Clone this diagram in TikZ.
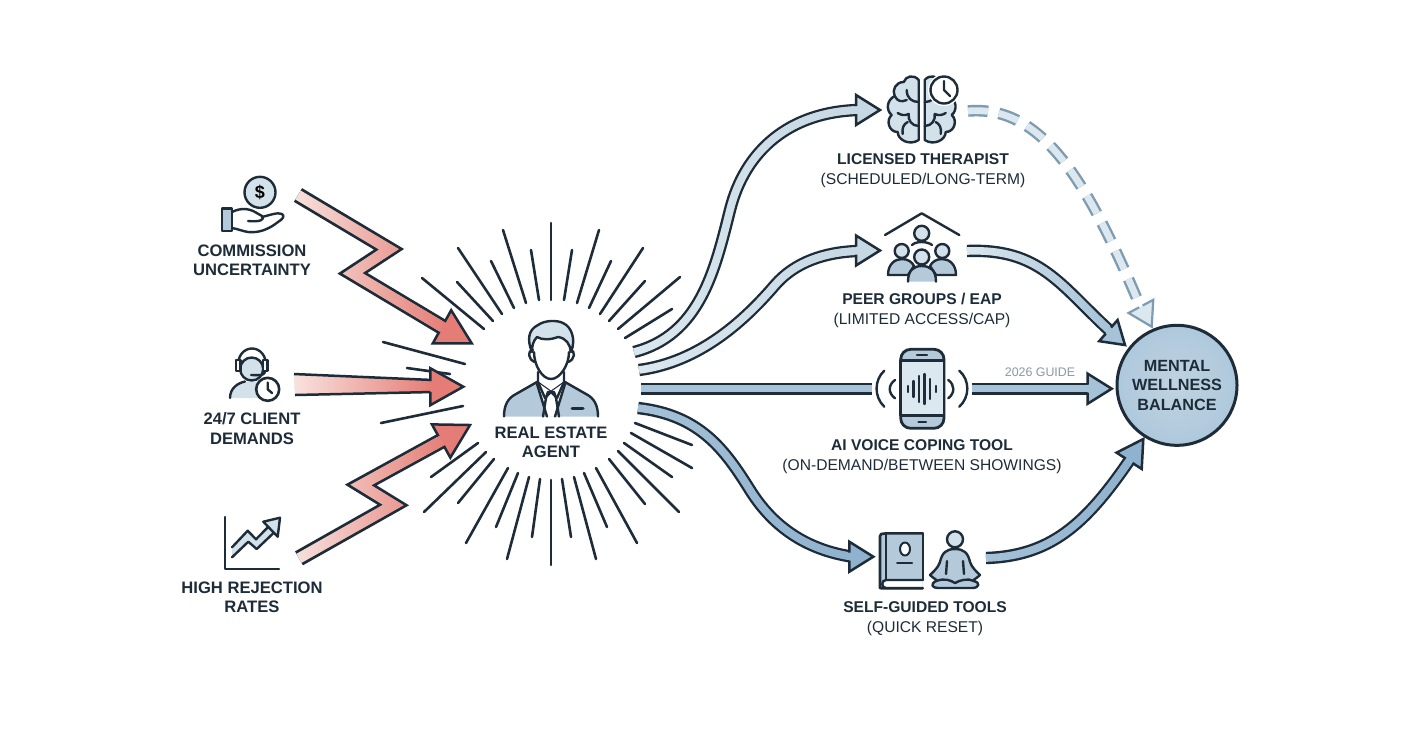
\documentclass[tikz,border=0pt]{standalone}
\usepackage{fontspec}
\setmainfont{Liberation Sans}
\usetikzlibrary{arrows.meta,positioning,calc,fadings,shapes.geometric}
\definecolor{ink}{HTML}{1D2C38}
\definecolor{stressA}{HTML}{F8E2DD}
\definecolor{stressB}{HTML}{E57D76}
\definecolor{iconA}{HTML}{D3E1EA}
\definecolor{iconB}{HTML}{B4CADA}
\definecolor{flowA}{HTML}{DCE8EF}
\definecolor{flowB}{HTML}{C6D8E4}
\definecolor{flowC}{HTML}{A5C2D8}
\definecolor{flowD}{HTML}{8FB2CE}
\definecolor{dashedge}{HTML}{7F9BB0}
\definecolor{guidegray}{HTML}{8B98A3}
\tikzfading[name=fadein, left color=transparent!100, right color=transparent!0]
\tikzset{
  mainlabel/.style={align=center, inner sep=0pt, text=ink,
                    font=\bfseries\fontsize{8.3}{9.6}\selectfont},
  sublabel/.style={align=center, inner sep=0pt, text=ink,
                   font=\fontsize{7.8}{10}\selectfont},
  burstray/.style={draw=ink, line width=1.3pt, line cap=round},
  stressline/.style={draw=ink, line width=8pt,
                     postaction={draw=stressA, line width=5.2pt},
                     postaction={draw=stressB, line width=5.2pt, path fading=fadein}},
  flowline/.style 2 args={draw=ink, line width=6.2pt,
                     postaction={draw=#1, line width=3.8pt},
                     postaction={draw=#2, line width=3.8pt, path fading=fadein}},
  flatline/.style={draw=ink, line width=6pt,
                   postaction={draw=#1, line width=3.6pt}},
  dashline/.style={draw=dashedge, line width=5.8pt, dash pattern=on 10pt off 5.5pt,
                   postaction={draw=flowA, line width=3.4pt, dash pattern=on 10pt off 5.5pt}},
  headedge/.style={draw=ink, line width=1.25pt, line join=miter},
  iconline/.style={draw=ink, line width=1.2pt, line join=round, line cap=round},
  pics/fathead/.style n args={4}{code={
    \fill[#4] (-#1,#3) -- (-#1,#2) -- (0,0) -- (-#1,-#2) -- (-#1,-#3) -- cycle;
    \draw[headedge] (-#1,#3) -- (-#1,#2) -- (0,0) -- (-#1,-#2) -- (-#1,-#3);
  }},
}
\begin{document}
\begin{tikzpicture}[x=0.5pt, y=-0.5pt]
  \useasboundingbox (0,0) rectangle (1424,752);
  \fill[white] (0,0) rectangle (1424,752);
  % Burst round the agent
  \foreach \ax/\ay/\bx/\by in {
    551/300/551/223, 564/300/572/250, 577/303/599/230, 589/308/611/261,
    600/314/643/248, 609/321/645/281, 618/329/680/277, 625/338/672/309,
    635/423/692/445, 631/433/692/468, 624/443/672/477, 618/451/679/512,
    609/459/645/504, 596/468/637/543, 584/473/607/527, 574/477/596/559,
    562/479/571/537, 551/480/551/565, 540/479/532/537, 529/477/507/559,
    518/473/496/527, 508/468/466/543, 494/459/458/503, 486/452/424/512,
    478/443/431/477, 465/364/383/342, 450/374/407/368, 463/406/381/423,
    484/329/422/278, 493/321/457/282, 502/314/458/248, 514/308/491/261,
    526/303/503/230, 539/300/531/250}
    \draw[burstray] (\ax,\ay) -- (\bx,\by);

  % Stress arrows
  \coordinate (commissionout) at (298,195);
  \coordinate (commissionbend) at (389,249.3);
  \coordinate (commissionback) at (352.5,273.3);
  \coordinate (commissionin) at (442,326.8);
  \coordinate (commissiontip) at (471.7,343.3);
  \draw[stressline] (commissionout) -- (commissionbend) -- (commissionback) -- (commissionin);
  \pic[rotate=-29] at (commissiontip) {fathead={34}{19}{5.5}{stressB}};

  \coordinate (demandsA) at (294,374);
  \coordinate (demandsB) at (295,395);
  \coordinate (demandsC) at (433,380);
  \coordinate (demandsD) at (433,392);
  \coordinate (demandstip) at (463.3,386.7);
  \shade[left color=stressA, right color=stressB] (demandsA) -- (demandsC) -- (demandsD) -- (demandsB) -- cycle;
  \draw[headedge] (demandsA) -- (demandsC);
  \draw[headedge] (demandsB) -- (demandsD);
  \pic at (demandstip) {fathead={33}{18.5}{5.5}{stressB}};

  \coordinate (rejectionout) at (299,558.3);
  \coordinate (rejectionbend) at (393.3,505);
  \coordinate (rejectionback) at (360.8,485);
  \coordinate (rejectionin) at (441,441);
  \coordinate (rejectiontip) at (470,425);
  \draw[stressline] (rejectionout) -- (rejectionbend) -- (rejectionback) -- (rejectionin);
  \pic[rotate=29] at (rejectiontip) {fathead={33}{19}{5.5}{stressB}};

  % Flows out of the agent
  \coordinate (agentA) at (634,352);
  \coordinate (agentB) at (639,370);
  \coordinate (agentC) at (641,388.5);
  \coordinate (agentD) at (638,408);
  \coordinate (therapistin) at (858,110);
  \coordinate (peersin) at (858,251);
  \coordinate (voicein) at (872,388.5);
  \coordinate (selfin) at (851,556.5);
  \draw[flowline={flowA}{flowB}] (agentA) .. controls (700,335) and (715,270) .. (730,210)
    .. controls (745,150) and (790,112) .. (therapistin);
  \pic at (880,110) {fathead={24}{15}{4}{flowB}};
  \draw[flowline={flowA}{flowB}] (agentB) .. controls (700,362) and (745,320) .. (775,285)
    .. controls (795,262) and (825,252) .. (peersin);
  \pic at (880,250.5) {fathead={24}{15}{4}{flowB}};
  \draw[flatline=flowC] (agentC) -- (voicein);
  \draw[flowline={flowC}{flowD}] (agentD) .. controls (700,415) and (725,450) .. (750,490)
    .. controls (775,530) and (810,550) .. (selfin);
  \pic at (873.3,556.7) {fathead={24}{15}{4}{flowD}};

  % Flows into the balance circle
  \node[circle, draw=ink, line width=1.5pt, minimum size=60pt, inner sep=0pt, align=center,
        inner color=iconB!70!flowA, outer color=flowC!90!white, text=ink,
        font=\bfseries\fontsize{8.1}{9.7}\selectfont] (balance) at (1177,385.3)
        {MENTAL\\WELLNESS\\BALANCE};
  \coordinate (therapistout) at (968,111);
  \coordinate (peersout) at (967,251);
  \coordinate (voiceout) at (972,388.5);
  \coordinate (selfout) at (986,558);
  \coordinate (therapistend) at (1140,306);
  \coordinate (peersend) at (1110,331);
  \coordinate (voiceend) at (1089,388.5);
  \coordinate (selfend) at (1129,461);
  \draw[dashline] (therapistout) .. controls (1040,105) and (1085,175) .. (therapistend);
  \pic[rotate=-62, headedge/.style={draw=dashedge, line width=1.1pt}] at (1151.7,326.7)
    {fathead={23}{14}{2}{flowA}};
  \draw[flowline={flowA}{flowC}] (peersout) .. controls (1040,248) and (1060,285) .. (peersend);
  \pic[rotate=-41] at (1125,345) {fathead={22}{14}{4}{flowC}};
  \draw[flatline=flowC] (voiceout) -- (voiceend);
  \pic at (1111.7,388.7) {fathead={24}{15}{4}{flowC}};
  \draw[flowline={flowC}{flowD}] (selfout) .. controls (1050,556) and (1085,525) .. (selfend);
  \pic[rotate=57] at (1143.3,439) {fathead={26}{15}{4}{flowD}};
  \node[font=\fontsize{6.2}{7}\selectfont, text=guidegray, inner sep=0pt] (guide) at (1040,372) {2026 GUIDE};

  % Agent
  \draw[iconline, fill=iconB] (504,416.5) .. controls (504,405) and (508,398) .. (516,394) -- (537,382)
    -- (551,392) -- (565,382) -- (586,394) .. controls (594,398) and (598,405) .. (598,416.5);
  \fill[white] (537,382) -- (551,392) -- (565,382) -- (556,416.5) -- (546,416.5) -- cycle;
  \draw[iconline] (538,372) -- (538,382) -- (545,398) -- (551,392) -- (557,398) -- (564,382) -- (564,372);
  \draw[iconline] (537,384) -- (547,416.5);
  \draw[iconline] (565,384) -- (555,416.5);
  \draw[iconline] (548,392) -- (554,392) -- (556,398) -- (559,416.5);
  \draw[iconline] (548,392) -- (546,398) -- (543,416.5);
  \draw[iconline, line width=1.5pt] (572,408.3) -- (583,408.3);
  \draw[iconline, fill=iconA] (532,352) .. controls (527,340) and (528,330) .. (538,325)
    .. controls (545,320) and (557,320) .. (563,323) .. controls (572,327) and (576,340) .. (571,352)
    .. controls (570,344) and (566,338) .. (558,337) .. controls (550,340) and (542,340) .. (537,337)
    .. controls (533,341) and (532,346) .. (532,352) -- cycle;
  \draw[iconline, fill=white] (534,352) .. controls (534,365) and (542,379) .. (551,379)
    .. controls (560,379) and (569,365) .. (569,352);
  \draw[iconline] (533,350) .. controls (527,350) and (528,360) .. (535,362);
  \draw[iconline] (570,350) .. controls (576,350) and (575,360) .. (568,362);
  \node[mainlabel] (agent) at (551,442.5) {REAL ESTATE\\AGENT};

  % Left labels and icons
  \node[mainlabel] (commission) at (252,260.5) {COMMISSION\\UNCERTAINTY};
  \node[mainlabel] (demands) at (252,428.5) {24/7 CLIENT\\DEMANDS};
  \node[mainlabel] (rejection) at (252,597.5) {HIGH REJECTION\\RATES};

  \node[circle, iconline, fill=iconA, minimum size=15.5pt, inner sep=0pt, font=\bfseries\fontsize{9}{9}\selectfont] (coin) at (260,192.3) {\$};
  \draw[iconline, fill=iconB] (222,208.5) rectangle (232,231);
  \draw[iconline] (232,212) .. controls (240,208) and (248,208) .. (255,212) -- (262,216)
    .. controls (265,220) and (260,222) .. (248,221);
  \draw[iconline] (262,217) .. controls (270,215) and (278,212) .. (282,214)
    .. controls (285,216) and (283,219) .. (278,222) .. controls (268,230) and (258,233) .. (248,232)
    .. controls (242,231) and (238,229) .. (232,228);

  \fill[iconA] (230,398) .. controls (230,388) and (238,383) .. (245,381.5) -- (258,381.5) -- (262,398) -- cycle;
  \draw[iconline] (230,398) .. controls (230,388) and (238,383) .. (245,381.5);
  \draw[iconline, fill=iconA] (251.7,369) circle (11.5);
  \draw[iconline] (238,368) .. controls (236,342) and (268,342) .. (266,368);
  \draw[iconline, fill=white] (236,360) rectangle (240.5,371);
  \draw[iconline, fill=white] (263,360) rectangle (267.5,371);
  \draw[iconline] (265,372) .. controls (264,376) and (258,375) .. (251,375);
  \node[circle, iconline, fill=white, line width=1.3pt, minimum size=11.5pt, inner sep=0pt] (demandclock) at (267.7,389.3) {};
  \draw[iconline] (267.7,382.5) -- (267.7,389.3) -- (272,393);

  \draw[iconline] (225,517) -- (225,569) -- (279,569);
  \fill[iconA] (232,547.3) -- (247.7,530.7) -- (256,539.3) -- (271.7,523.3) -- (276.7,530) -- (256.7,549) -- (248.3,541.7) -- (232,557.3) -- cycle;
  \draw[iconline] (232,547.3) -- (247.7,530.7) -- (256,539.3) -- (271.7,523.3);
  \draw[iconline] (232,557.3) -- (248.3,541.7) -- (256.7,549) -- (276.7,530);
  \draw[iconline, fill=iconA] (280,517.7) -- (263.3,521.7) -- (277.7,536.7) -- cycle;

  % Right labels and icons
  \node[sublabel] (therapist) at (923,171) {\textbf{LICENSED THERAPIST}\\(SCHEDULED/LONG-TERM)};
  \node[sublabel] (peers) at (922,310) {\textbf{PEER GROUPS / EAP}\\(LIMITED ACCESS/CAP)};
  \node[sublabel] (voice) at (922,457) {\textbf{AI VOICE COPING TOOL}\\(ON-DEMAND/BETWEEN SHOWINGS)};
  \node[sublabel] (selfguided) at (925,618.5) {\textbf{SELF-GUIDED TOOLS}\\(QUICK RESET)};

  % Brain
  \foreach \s in {1,-1} {
    \begin{scope}[shift={(921.7,110)}, xscale=\s]
      \draw[iconline, fill=iconA] (3,-30) .. controls (8,-36) and (16,-34) .. (18,-28)
        .. controls (26,-28) and (30,-20) .. (27,-14) .. controls (35,-10) and (36,0) .. (30,5)
        .. controls (36,10) and (33,22) .. (24,22) .. controls (24,30) and (12,36) .. (3,30) -- cycle;
      \draw[iconline] (3,-8) .. controls (10,-8) and (15,-12) .. (15,-20);
      \draw[iconline] (15,-10) .. controls (20,-8) and (24,-8) .. (27,-14);
      \draw[iconline] (3,16) .. controls (10,16) and (14,10) .. (13,4) .. controls (17,6) and (21,5) .. (24,3);
      \draw[iconline] (14,12) .. controls (18,14) and (20,18) .. (19,24);
    \end{scope}
  }
  \node[circle, fill=white, minimum size=16pt, inner sep=0pt] (brainhalo) at (944,90) {};
  \node[circle, iconline, fill=white, minimum size=13.5pt, inner sep=0pt] (brainclock) at (944,90) {};
  \draw[iconline] (944,81) -- (944,90) -- (950,96);

  % Peers
  \draw[iconline] (885,235) -- (921.7,213.3) -- (959.3,235);
  \draw[iconline, fill=iconA] (921.7,233.3) circle (7.5);
  \draw[iconline] (912,245) .. controls (916,241) and (927,241) .. (932,245);
  \draw[iconline, fill=iconB] (888,275) .. controls (888,264) and (895,259) .. (902,259)
    .. controls (908,259) and (912,262) .. (914,266) -- (908,275) -- cycle;
  \draw[iconline, fill=iconB] (956,275) .. controls (956,264) and (949,259) .. (942,259)
    .. controls (936,259) and (932,262) .. (930,266) -- (936,275) -- cycle;
  \draw[iconline, fill=iconA] (901.7,251) circle (7);
  \draw[iconline, fill=iconA] (942.3,251) circle (7);
  \draw[iconline, fill=iconA] (921.7,257) circle (7.5);
  \draw[iconline, fill=iconB] (908,281.7) .. controls (908,270) and (914,266) .. (921.7,266)
    .. controls (930,266) and (936,270) .. (936,281.7);

  % Phone
  \draw[iconline, fill=iconB, rounded corners=5pt, line width=1.4pt] (900.7,349.3) rectangle (944,428.3);
  \draw[iconline, fill=flowA, line width=1.3pt] (900.7,360.7) rectangle (944,415.7);
  \draw[iconline] (917,355) -- (927,355);
  \draw[iconline] (918.5,421.7) -- (926,421.7);
  \foreach \wx/\wh in {908/3, 913.5/8, 919/13, 924.5/15, 930/10, 936/3}
    \draw[iconline] (\wx,389-\wh) -- (\wx,389+\wh);
  \draw[iconline] (884.3,370.7) .. controls (874,380) and (874,397) .. (884.3,406.7);
  \draw[iconline] (895,380) .. controls (888,385) and (888,393) .. (895,398.3);
  \draw[iconline] (959.3,370.7) .. controls (970,380) and (970,397) .. (959.3,406.7);
  \draw[iconline] (948.3,380) .. controls (955,385) and (955,393) .. (948.3,398.3);

  % Book and meditation
  \draw[iconline, fill=iconB, line width=1.3pt, rounded corners=2pt] (922.7,533.3) -- (885,533.3)
    .. controls (881,534) and (880,537) .. (880,540) -- (880,584) .. controls (880,587) and (882,588.3) .. (885,588.3) -- (922.7,588.3);
  \draw[iconline, fill=white] (922.7,580) -- (886,580) .. controls (881,580) and (881,588) .. (886,588) -- (922.7,588);
  \draw[iconline] (922.7,533.3) -- (922.7,580);
  \draw[iconline] (886,534) -- (886,580);
  \draw[iconline, fill=white, line width=1pt] (905,549) ellipse (5 and 6.5);
  \draw[iconline, line width=1pt] (897,563.3) -- (912,563.3);
  \draw[iconline, fill=iconA] (955,539.3) circle (8);
  \draw[iconline, fill=iconB] (955,549) .. controls (946,549) and (942,553) .. (940,562)
    .. controls (938,568) and (933,572) .. (930,575) .. controls (934,579) and (938,580) .. (936,581)
    .. controls (930,584) and (932,588) .. (938,588) -- (972,588)
    .. controls (980,588) and (980,582) .. (974,581) .. controls (972,580) and (976,579) .. (980,575)
    .. controls (977,572) and (972,568) .. (970,562) .. controls (968,553) and (964,549) .. (955,549) -- cycle;
  \draw[iconline] (936,581) .. controls (945,578) and (950,580) .. (955,583) .. controls (960,580) and (968,578) .. (974,581);
  \draw[iconline] (947,561) -- (946,574);
  \draw[iconline] (963,561) -- (964,574);
\end{tikzpicture}
\end{document}
